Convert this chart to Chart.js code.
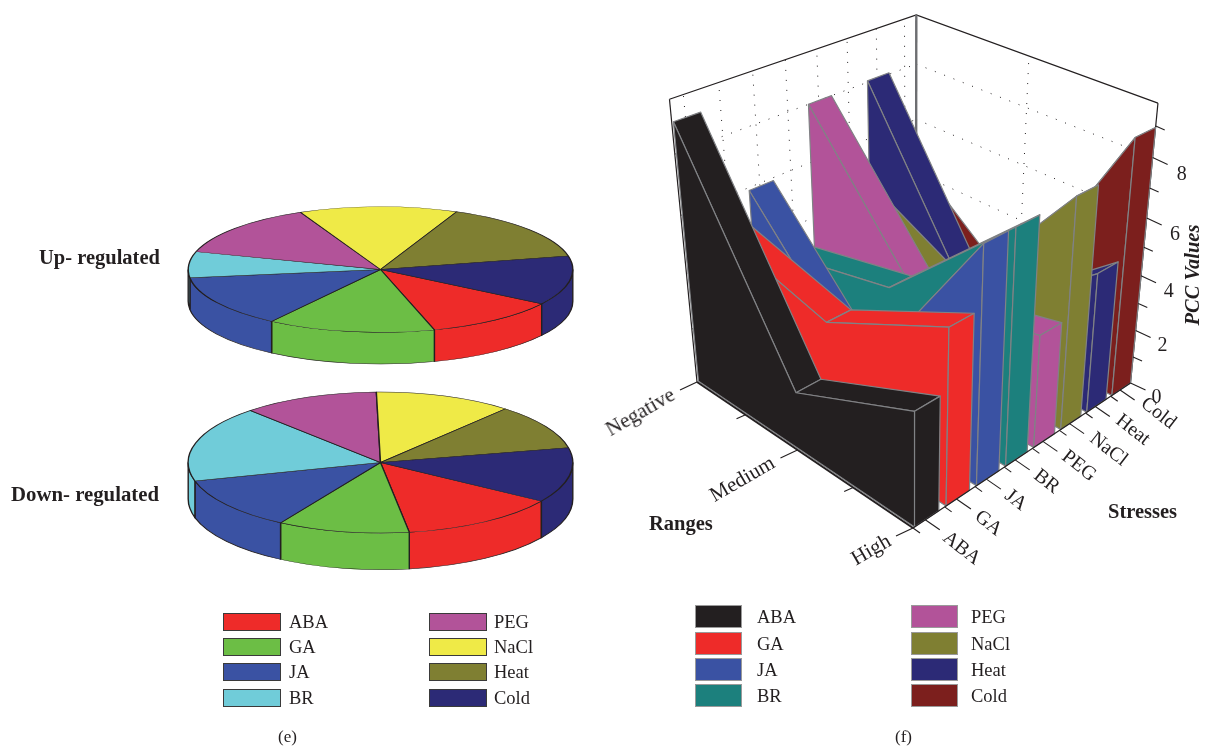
<!DOCTYPE html>
<html>
<head>
<meta charset="utf-8">
<title>Stress charts</title>
<script src="https://cdn.jsdelivr.net/npm/chart.js@4"></script>
<style>
  html, body { margin: 0; background: #fff; }
  #page { position: relative; width: 1213px; height: 747px; overflow: hidden;
          font-family: "Liberation Serif", serif; color: #231f20; }
  #page canvas { position: absolute; }
  .txt { position: absolute; white-space: nowrap; line-height: 1; }
  .swatch { position: absolute; box-sizing: border-box; }
</style>
</head>
<body>
<div id="page">
  <canvas id="pie-up" width="391" height="391" style="left:184.5px;top:73.5px"></canvas>
  <canvas id="pie-down" width="391" height="391" style="left:184.5px;top:266.5px"></canvas>
  <canvas id="ribbons" width="1213" height="747" style="left:0;top:0"></canvas>
</div>
<script>
const stresses = ["ABA", "GA", "JA", "BR", "PEG", "NaCl", "Heat", "Cold"];
const ranges = ["Negative", "Medium", "High"];
const pccTicks = [0, 2, 4, 6, 8];

// pie shares (percent)
const upShares = [11.3, 14.1, 13.3, 6.7, 13.6, 13.3, 15.1, 12.6];
const downShares = [13.4, 11.1, 12.1, 17.4, 11.5, 11.6, 10.4, 12.6];

// PCC value per range: Negative, Medium, High
const abaPcc = [9.0, 2.05, 3.95];
const gaPcc = [5.0, 3.9, 6.0];
const jaPcc = [5.9, 1.5, 8.0];
const brPcc = [3.1, 4.0, 8.0];
const pegPcc = [8.0, 3.0, 4.0];
const naclPcc = [4.8, 2.7, 8.0];
const heatPcc = [8.05, 1.5, 5.0];
const coldPcc = [4.45, 1.15, 8.95];
const allPcc = [abaPcc, gaPcc, jaPcc, brPcc, pegPcc, naclPcc, heatPcc, coldPcc];

const pieColors = ["#ee2b29", "#6cbe45", "#3a52a3", "#70ccd9", "#b25399", "#efea47", "#7f7f32", "#2c2a76"];
const ribbonColors = ["#231f20", "#ee2b29", "#3a52a3", "#1c807d", "#b25399", "#7f7f32", "#2c2a76", "#7c1f1d"];

const page = document.getElementById("page");

function addText(text, x, y, size, opts = {}) {
  const el = document.createElement("span");
  el.className = "txt";
  el.textContent = text;
  el.style.left = x + "px";
  el.style.top = y + "px";
  el.style.fontSize = size + "px";
  if (opts.bold) el.style.fontWeight = "bold";
  if (opts.italic) el.style.fontStyle = "italic";
  el.style.transformOrigin = opts.origin || "0 50%";
  el.style.transform = opts.transform || "translateY(-50%)";
  page.appendChild(el);
  return el;
}

// ---------- (e) flattened 3D pies ----------
const pie3d = {
  id: "pie3d",
  beforeDatasetsDraw(chart, args, opts) {
    const ctx = chart.ctx;
    const arcs = chart.getDatasetMeta(0).data;
    const { x, y, outerRadius } = arcs[0];
    ctx.save();
    ctx.translate(x, y);
    ctx.scale(1, opts.squash);
    ctx.translate(-x, -y);
    const drop = opts.depth / opts.squash;
    arcs.forEach((arc, i) => {
      [0, Math.PI * 2].forEach((turn) => {
        const a = Math.max(arc.startAngle - turn, 0);
        const b = Math.min(arc.endAngle - turn, Math.PI);
        if (b <= a) return;
        ctx.beginPath();
        ctx.arc(x, y, outerRadius, a, b);
        ctx.arc(x, y + drop, outerRadius, b, a, true);
        ctx.closePath();
        ctx.fillStyle = pieColors[i];
        ctx.fill();
        ctx.lineWidth = 1.4;
        ctx.strokeStyle = "#231f20";
        ctx.stroke();
      });
    });
  },
  afterDatasetsDraw(chart) {
    chart.ctx.restore();
  },
};

function makePie(id, shares, rotation, squash, depth) {
  new Chart(document.getElementById(id), {
    type: "pie",
    data: {
      labels: stresses,
      datasets: [{ data: shares, backgroundColor: pieColors, borderColor: "#231f20", borderWidth: 1.4 }],
    },
    options: {
      responsive: false,
      animation: false,
      events: [],
      rotation: rotation,
      layout: { padding: 2.5 },
      plugins: { legend: { display: false }, tooltip: { enabled: false }, pie3d: { squash, depth } },
    },
    plugins: [pie3d],
  });
}

makePie("pie-up", upShares, 123.05, 0.327, 31.7);
makePie("pie-down", downShares, 123.2, 0.367, 36.6);

// ---------- (f) ribbon chart: 3D axes mapped on to pixel scales ----------
const frontCorner = [913, 528];
const leftCorner = [697, 382];
const rightCorner = [1130.5, 383];
const vanish = [913, 2600];
const leftDepth = 1.15;
const rightDepth = 1.16;
const zRate = 0.01339;
const zTop = 9.71;

const ribbonStep = 0.128;
const ribbonWidth = 0.098;

// s: along stresses (0..1), r: along ranges (0 Negative .. 1 High), z: PCC value
function project(s, r, z) {
  const u = 1 - r;
  const w = 1 + s * (rightDepth - 1) + u * (leftDepth - 1) - z * zRate;
  const axis = (k) =>
    frontCorner[k] +
    s * (rightDepth * rightCorner[k] - frontCorner[k]) +
    u * (leftDepth * leftCorner[k] - frontCorner[k]) -
    z * zRate * vanish[k];
  return { x: axis(0) / w, y: axis(1) / w };
}

const layers = [];

function addLine(points, color, width, dash) {
  layers.push({
    data: points,
    showLine: true,
    borderColor: color,
    borderWidth: width,
    borderDash: dash || [],
    pointRadius: 0,
    tension: 0,
  });
}

function addFace(points, color) {
  layers.push({
    data: points.concat([points[0]]),
    showLine: true,
    borderColor: "#808285",
    borderWidth: 1.2,
    borderJoinStyle: "round",
    backgroundColor: color,
    faceFill: true,
    pointRadius: 0,
    tension: 0,
  });
}

// dotted grid on the two back walls
const dots = [1, 9];
[2, 4, 6, 8].forEach((z) => {
  addLine([project(0, 0, z), project(1, 0, z)], "#231f20", 1, dots);
  addLine([project(1, 0, z), project(1, 1, z)], "#231f20", 1, dots);
});
stresses.forEach((name, i) => {
  const s = i * ribbonStep + ribbonWidth / 2;
  addLine([project(s, 0, 0), project(s, 0, zTop)], "#231f20", 1, dots);
});
addLine([project(1, 0.5, 0), project(1, 0.5, zTop)], "#231f20", 1, dots);

// box frame
addLine([project(0, 0, zTop), project(1, 0, zTop), project(1, 1, zTop)], "#231f20", 1.2);
addLine([project(0, 0, 0), project(0, 0, zTop)], "#231f20", 1.2);
addLine([project(1, 1, 0), project(1, 1, zTop)], "#231f20", 1.2);
addLine([project(1, 0, 0), project(1, 0, zTop)], "#6d6e71", 2.4);

// ribbons, furthest first; the wall goes over the top faces
for (let i = stresses.length - 1; i >= 0; i--) {
  const near = i * ribbonStep + 0.006;
  const far = near + ribbonWidth;
  const vals = allPcc[i];
  const color = ribbonColors[i];
  const rs = [0, 0.5, 1];
  for (let k = 0; k < 2; k++) {
    addFace(
      [
        project(near, rs[k], vals[k]),
        project(far, rs[k], vals[k]),
        project(far, rs[k + 1], vals[k + 1]),
        project(near, rs[k + 1], vals[k + 1]),
      ],
      color
    );
  }
  addFace(
    [
      project(near, 0, 0),
      project(near, 1, 0),
      project(near, 1, vals[2]),
      project(near, 0.5, vals[1]),
      project(near, 0, vals[0]),
    ],
    color
  );
  addFace(
    [project(near, 1, 0), project(far, 1, 0), project(far, 1, vals[2]), project(near, 1, vals[2])],
    color
  );
}

// floor axes and ticks
addLine([project(0, 0, 0), project(0, 1, 0)], "#231f20", 2);
addLine([project(0, 1, 0), project(1, 1, 0)], "#231f20", 1.2);

function shift(p, dx, dy) {
  return { x: p.x + dx, y: p.y + dy };
}

for (let k = 0; k <= 4; k++) {
  const p = project(0, k / 4, 0);
  const major = k % 2 === 0;
  addLine([p, shift(p, major ? -17 : -9, major ? 8 : 4)], "#231f20", 1.1);
}
for (let i = 0; i < stresses.length; i++) {
  const s = i * ribbonStep + ribbonWidth / 2;
  const m = project(s, 1, 0);
  addLine([m, shift(m, 14.5, 10)], "#231f20", 1.1);
  const e = project(i * ribbonStep, 1, 0);
  addLine([e, shift(e, 7, 5)], "#231f20", 1.1);
}
for (let z = 0; z <= 9; z++) {
  const p = project(1, 1, z);
  const major = z % 2 === 0;
  addLine([p, shift(p, major ? 15 : 9, major ? 7 : 4)], "#231f20", 1.1);
}

// fills each face right under its own outline
const faceFill = {
  id: "faceFill",
  beforeDatasetDraw(chart, args) {
    const ds = chart.data.datasets[args.index];
    if (!ds.faceFill) return;
    const ctx = chart.ctx;
    ctx.save();
    ctx.beginPath();
    args.meta.data.forEach((pt, n) => (n ? ctx.lineTo(pt.x, pt.y) : ctx.moveTo(pt.x, pt.y)));
    ctx.closePath();
    ctx.fillStyle = ds.backgroundColor;
    ctx.fill();
    ctx.restore();
  },
};

// chart.js paints the first dataset last, so flip the list
new Chart(document.getElementById("ribbons"), {
  type: "scatter",
  data: { datasets: layers.slice().reverse().map((d) => ({ ...d, clip: false })) },
  options: {
    responsive: false,
    animation: false,
    events: [],
    layout: { padding: 0 },
    scales: {
      x: { type: "linear", min: 0, max: 1213, display: false },
      y: { type: "linear", min: 0, max: 747, reverse: true, display: false },
    },
    plugins: { legend: { display: false }, tooltip: { enabled: false } },
  },
  plugins: [faceFill],
});

// ---------- texts ----------
addText("Up- regulated", 39, 257, 20.5, { bold: true });
addText("Down- regulated", 11, 494, 20.8, { bold: true });
addText("(e)", 278, 736, 17);
addText("(f)", 895, 736, 17);
addText("Ranges", 649, 523, 20.5, { bold: true });
addText("Stresses", 1108, 511, 20.5, { bold: true });
addText("PCC Values", 1192, 275, 20.5, {
  bold: true,
  italic: true,
  origin: "50% 50%",
  transform: "translate(-50%,-50%) rotate(-90deg)",
});

ranges.forEach((name, i) => {
  const p = project(0, i / 2, 0);
  addText(name, p.x - 24, p.y + 11, 21, {
    origin: "100% 50%",
    transform: "translate(-100%,-50%) rotate(-30deg)",
  });
});
stresses.forEach((name, i) => {
  const p = project(i * ribbonStep + ribbonWidth / 2, 1, 0);
  addText(name, p.x + 21 + i * 0.4, p.y + 14 - i * 0.5, 20, { transform: "translateY(-50%) rotate(38deg)" });
});
pccTicks.forEach((v) => {
  const p = project(1, 1, v);
  addText(String(v), p.x + 26 + v * 0.4, p.y + 13 + v * 0.3, 20, { origin: "50% 50%", transform: "translate(-50%,-50%)" });
});

// ---------- hand-placed legends ----------
function addLegend(names, colors, columns, tops, swatchW, swatchH, border) {
  names.forEach((name, i) => {
    const col = columns[i < 4 ? 0 : 1];
    const top = tops[i % 4];
    const sw = document.createElement("div");
    sw.className = "swatch";
    sw.style.cssText =
      `left:${col.x}px;top:${top}px;width:${swatchW}px;height:${swatchH}px;` +
      `background:${colors[i]};border:1.5px solid ${border};`;
    page.appendChild(sw);
    addText(name, col.text, top + swatchH / 2, 18.5);
  });
}

addLegend(
  stresses,
  pieColors,
  [{ x: 223, text: 289 }, { x: 429, text: 494 }],
  [613, 638, 663, 689],
  58,
  18,
  "#3a3a3a"
);
addLegend(
  stresses,
  ribbonColors,
  [{ x: 695, text: 757 }, { x: 911, text: 971 }],
  [605, 632, 658, 684],
  47,
  23,
  "#9a9a9a"
);
</script>
</body>
</html>
